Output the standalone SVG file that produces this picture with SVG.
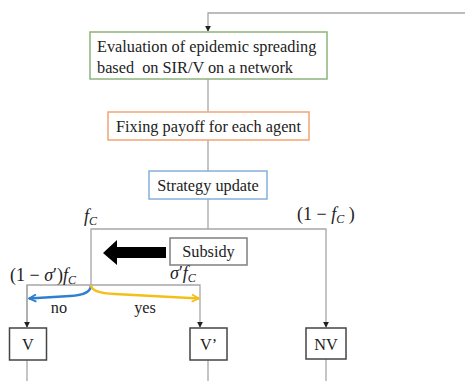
<svg xmlns="http://www.w3.org/2000/svg" width="465" height="381" viewBox="0 0 465 381" font-family="'Liberation Serif', 'DejaVu Serif', serif">
<style>
text{font-family:'Liberation Serif','DejaVu Serif',serif;fill:#222;}
.t{font-size:16.3px;}
.box{fill:#fff;stroke-width:1.5;}
.conn{fill:none;stroke:#a6a6a6;stroke-width:1.3;}
.m{font-size:18px;}
.i{font-style:italic;}
.sub{font-size:12px;font-style:italic;}
</style>
<defs>
<marker id="ah" viewBox="0 0 8 8" refX="7" refY="4" markerWidth="6" markerHeight="6" orient="auto" markerUnits="userSpaceOnUse">
<path d="M0,0 L8,4 L0,8 z" fill="#222"/>
</marker>
<marker id="chevB" viewBox="0 0 10 10" refX="9" refY="5" markerWidth="9" markerHeight="9" orient="auto" markerUnits="userSpaceOnUse">
<path d="M1,1 L9,5 L1,9" fill="none" stroke="#2f7fcf" stroke-width="2"/>
</marker>
<marker id="chevY" viewBox="0 0 10 10" refX="9" refY="5" markerWidth="9" markerHeight="9" orient="auto" markerUnits="userSpaceOnUse">
<path d="M1,1 L9,5 L1,9" fill="none" stroke="#f5bf1a" stroke-width="2"/>
</marker>
</defs>
<g id="connectors">
<polyline class="conn" points="465,13 208,13 208,31" marker-end="url(#ah)"/>
<line class="conn" x1="208" y1="79" x2="208" y2="112"/>
<line class="conn" x1="208" y1="140" x2="208" y2="171"/>
<line class="conn" x1="208" y1="199" x2="208" y2="229"/>
<polyline class="conn" points="91,285 91,229 326,229 326,327" marker-end="url(#ah)"/>
<polyline class="conn" points="27,327 27,285 200,285 200,327" marker-end="url(#ah)"/>
<line class="conn" x1="27" y1="285" x2="27" y2="327" marker-end="url(#ah)"/>
<line class="conn" x1="27" y1="360" x2="27" y2="381"/>
<line class="conn" x1="208" y1="360" x2="208" y2="381"/>
<line class="conn" x1="326" y1="359" x2="326" y2="381"/>
<path d="M91,285 Q91,295 70,296 L29,298.5" fill="none" stroke="#2f7fcf" stroke-width="2.5" marker-end="url(#chevB)"/>
<path d="M91,285 Q91,293 115,294 L199,298.5" fill="none" stroke="#f5bf1a" stroke-width="2.5" marker-end="url(#chevY)"/>
<path d="M166,247 L117,247 L117,240 L103,253 L117,265 L117,258 L166,258 z" fill="#000"/>
</g>
<g id="eval">
<rect class="box" x="90" y="32" width="237" height="47" stroke="#8db37c"/>
<text class="t" x="97" y="52">Evaluation of epidemic spreading</text>
<text class="t" x="97" y="73" xml:space="preserve">based  on SIR/V on a network</text>
</g>
<g id="payoff">
<rect class="box" x="108" y="112" width="201" height="28" stroke="#f0a574"/>
<text class="t" x="208.5" y="132" text-anchor="middle">Fixing payoff for each agent</text>
</g>
<g id="strategy">
<rect class="box" x="149" y="171" width="118" height="28" stroke="#86aedb"/>
<text class="t" x="208" y="191" text-anchor="middle">Strategy update</text>
</g>
<g id="subsidy">
<rect class="box" x="170" y="238" width="77" height="27" stroke="#7f7f7f"/>
<text class="t" x="208.5" y="257" text-anchor="middle">Subsidy</text>
</g>
<g id="V">
<rect class="box" x="9.5" y="328" width="37" height="32" stroke="#444"/>
<text class="t" x="28" y="350" text-anchor="middle">V</text>
</g>
<g id="Vp">
<rect class="box" x="190" y="328" width="37" height="32" stroke="#444"/>
<text class="t" x="208.5" y="350" text-anchor="middle">V’</text>
</g>
<g id="NV">
<rect class="box" x="306" y="328" width="40" height="31" stroke="#444"/>
<text class="t" x="326" y="350" text-anchor="middle">NV</text>
</g>
<g id="labels">
<text class="m" x="84" y="222"><tspan class="i">f</tspan><tspan class="sub" dy="3">C</tspan></text>
<text class="m" x="297" y="220">(1 − <tspan class="i">f</tspan><tspan class="sub" dy="3">C</tspan><tspan dy="-3"> )</tspan></text>
<text class="m" x="10" y="281">(1 − <tspan class="i">σ</tspan>′)<tspan class="i">f</tspan><tspan class="sub" dy="3">C</tspan></text>
<text class="m" x="170" y="279"><tspan class="i">σ</tspan>′<tspan class="i">f</tspan><tspan class="sub" dy="3">C</tspan></text>
<text class="t" x="59" y="313" text-anchor="middle">no</text>
<text class="t" x="145" y="313" text-anchor="middle">yes</text>
</g>
</svg>
